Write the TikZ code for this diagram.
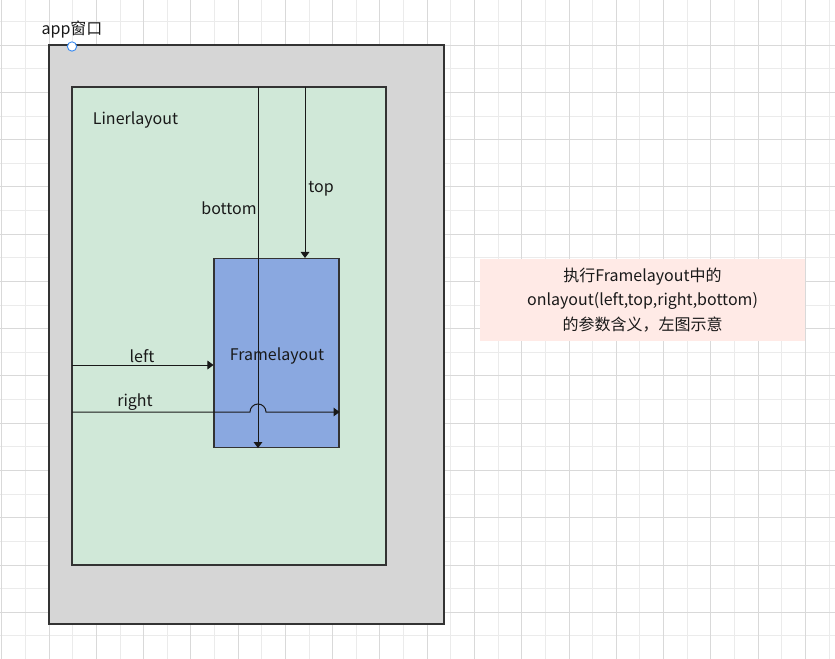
\documentclass[tikz,border=0pt]{standalone}
\usepackage{fontspec}
\setmainfont{Noto Sans CJK SC}
\usepackage{tikz}
\usetikzlibrary{arrows.meta, positioning}

\definecolor{winfill}{HTML}{D6D6D6}
\definecolor{linerfill}{HTML}{D0E8D8}
\definecolor{framefill}{HTML}{8AA8E0}
\definecolor{notefill}{HTML}{FFEAE6}
\definecolor{edgecol}{HTML}{333333}
\definecolor{handle}{HTML}{3C8CF0}

\tikzset{
  gridminor/.style={draw=black!8, line width=0.6pt},
  gridmajor/.style={draw=black!15, line width=0.6pt},
  box/.style={draw=edgecol, line width=0.8pt, inner sep=0pt},
  lbl/.style={text=black!90, font=\fontsize{12}{14}\selectfont, inner sep=0pt},
  arr/.style={-{Triangle[length=4.5pt,width=6.5pt]}, line width=0.75pt, draw=black!90}
}

\begin{document}
\begin{tikzpicture}[x=0.75pt, y=-0.75pt]
  \useasboundingbox (0,0) rectangle (835,659);
  % 背景の方眼
  \foreach \i in {-2,...,33} \draw[gridminor] ({49+23.635*\i},0) -- ++(0,659);
  \foreach \j in {-1,...,26} \draw[gridminor] (0,{45+23.635*\j}) -- ++(835,0);
  \foreach \i in {-1,...,16} \draw[gridmajor] ({49+47.27*\i},0) -- ++(0,659);
  \foreach \j in {0,...,13} \draw[gridmajor] (0,{45+47.27*\j}) -- ++(835,0);

  % 枠
  \node[box, fill=winfill, minimum width=296.25pt, minimum height=434.25pt] (appwin) at (246.5,334.5) {};
  \node[box, fill=linerfill, minimum width=235.5pt, minimum height=358.5pt] (liner) at (229,326) {};
  \node[box, fill=framefill, minimum width=93.75pt, minimum height=141.75pt, lbl] (frame) at (276.5,353) {};
  \node[lbl] (framelbl) at (277,356) {Framelayout};

  \node[lbl] (applbl) at (72,29.5) {app窗口};
  \node[circle, draw=handle, fill=white, line width=0.7pt, minimum size=7pt, inner sep=0pt] (apphandle) at (72,46.5) {};
  \node[lbl] (linerlbl) at (135.5,120) {Linerlayout};

  % 矢印
  \coordinate (topstart) at (305,87);
  \coordinate (botstart) at (258,87);
  \coordinate (leftstart) at (72,365);
  \coordinate (rightstart) at (72,412);
  \draw[arr] (topstart) -- (topstart |- frame.north);
  \draw[arr] (botstart) -- (botstart |- frame.south);
  \draw[arr] (leftstart) -- (leftstart -| frame.west);
  \draw[arr] (rightstart) -- (250,412) arc[start angle=180, end angle=360, radius=8] -- (rightstart -| frame.east);

  \node[lbl] (toplbl) at (321,188.5) {top};
  \node[lbl] (botlbl) at (229,208.5) {bottom};
  \node[lbl] (leftlbl) at (142,356) {left};
  \node[lbl] (rightlbl) at (135,402) {right};

  % 説明
  \node[fill=notefill, minimum width=243.75pt, minimum height=61.5pt, inner sep=0pt, align=center, text=black!90,
        font=\fontsize{12}{18.5}\selectfont] (note) at (642.5,300)
        {执行Framelayout中的\\onlayout(left,top,right,bottom)\\的参数含义，左图示意};
\end{tikzpicture}
\end{document}
